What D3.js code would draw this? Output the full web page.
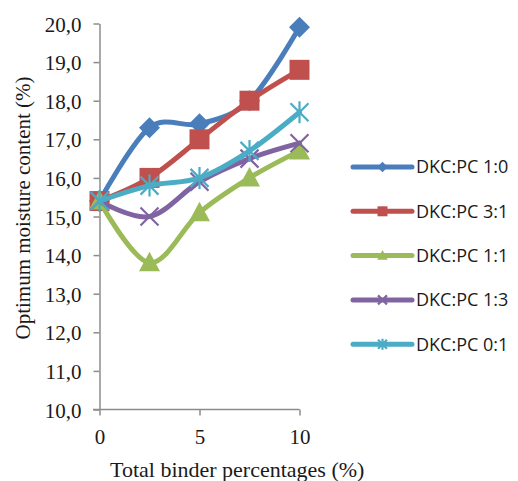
<!DOCTYPE html>
<html>
<head>
<meta charset="utf-8">
<script src="https://cdn.jsdelivr.net/npm/d3@7"></script>
<style>
	body { margin: 0; background: #fff; }
	svg { display: block; }
	.axis path, .axis line { stroke: #8c8c8c; stroke-width: 1.5; }
	.axis text { font-family: "Liberation Serif", "Times New Roman", serif; font-size: 21px; fill: #1a1a1a; }
	.title { font-family: "Liberation Serif", "Times New Roman", serif; font-size: 21px; fill: #1a1a1a; }
	.legend text { font-family: "Open Sans", "Liberation Sans", sans-serif; font-size: 18px; fill: #1a1a1a; }
</style>
</head>
<body>
<div id="chart"></div>
<script>
(function() {
	"use strict";

	var binder = [0, 2.5, 5, 7.5, 10];
	var seriesNames = ['DKC:PC 1:0', 'DKC:PC 3:1', 'DKC:PC 1:1', 'DKC:PC 1:3', 'DKC:PC 0:1'];
	var dkc10 = [15.4, 17.3, 17.4, 18.0, 19.9];
	var dkc31 = [15.4, 16.0, 17.0, 18.0, 18.8];
	var dkc11 = [15.4, 13.8, 15.1, 16.0, 16.7];
	var dkc13 = [15.4, 15.0, 15.9, 16.5, 16.9];
	var dkc01 = [15.4, 15.8, 16.0, 16.7, 17.7];
	var xTicks = [0, 5, 10];
	var yTicks = [10, 11, 12, 13, 14, 15, 16, 17, 18, 19, 20];

	var colors = ['#4a7ebb', '#c0504d', '#9bbb59', '#8064a2', '#4bacc6'];
	var markers = ['diamond', 'square', 'triangle', 'cross', 'star'];
	var values = [dkc10, dkc31, dkc11, dkc13, dkc01];

	var width = 518, height = 481;

	var svg = d3.select('#chart')
		.append('svg')
		.attr('width', width)
		.attr('height', height);

	var x = d3.scaleLinear().domain([0, 10]).range([99.5, 299.5]);
	var y = d3.scaleLinear().domain([10, 20]).range([409.5, 23.5]);

	var fmt = function (d) { return d.toFixed(1).replace('.', ','); };

	var yAxis = svg.append('g')
		.classed('axis', true)
		.attr('transform', 'translate(99.5,0)')
		.call(d3.axisLeft(y).tickValues(yTicks).tickFormat(fmt).tickSize(6).tickSizeOuter(0).tickPadding(12));

	var xAxis = svg.append('g')
		.classed('axis', true)
		.attr('transform', 'translate(0,409.5)')
		.call(d3.axisBottom(x).tickValues(xTicks).tickSize(6).tickSizeOuter(0).tickPadding(14));

	// x axis line starts a bit left of the y axis, like Excel
	xAxis.select('.domain').attr('d', 'M93,0H' + x(10));
	yAxis.selectAll('text').attr('dy', '0.36em');

	svg.append('text')
		.classed('title', true)
		.attr('x', 110)
		.attr('y', 477)
		.style('font-size', '22px')
		.text('Total binder percentages (%)');

	svg.append('text')
		.classed('title', true)
		.attr('transform', 'translate(30,208) rotate(-90)')
		.attr('text-anchor', 'middle')
		.text('Optimum moisture content (%)');

	var line = d3.line()
		.x(function (d) { return x(d[0]); })
		.y(function (d) { return y(d[1]); })
		.curve(d3.curveCatmullRom.alpha(0));

	// marker outlines, half-size r = 10px
	var markerPath = {
		diamond: 'M0,-10.5L10.5,0L0,10.5L-10.5,0Z',
		square: 'M-10,-10H10V10H-10Z',
		triangle: 'M0,-11L10.5,8.5H-10.5Z',
		cross: 'M-9,-9L9,9M9,-9L-9,9',
		star: 'M-9,-9L9,9M9,-9L-9,9M0,-11V11'
	};

	function drawMarker(g, kind, color, scale) {
		var path = g.append('path')
			.attr('d', markerPath[kind])
			.attr('transform', 'scale(' + scale + ')');
		if (kind === 'cross' || kind === 'star') {
			path.attr('fill', 'none').attr('stroke', color).attr('stroke-width', 2.2 / scale);
		} else {
			path.attr('fill', color);
		}
	}

	var series = seriesNames.map(function (name, i) {
		return {
			name: name,
			color: colors[i],
			marker: markers[i],
			points: binder.map(function (b, j) { return [b, values[i][j]]; })
		};
	});

	var groups = svg.selectAll('g.series')
		.data(series)
		.enter()
		.append('g')
		.classed('series', true);

	groups.append('path')
		.attr('d', function (s) { return line(s.points); })
		.attr('fill', 'none')
		.attr('stroke', function (s) { return s.color; })
		.attr('stroke-width', 5)
		.attr('stroke-linecap', 'round');

	groups.each(function (s) {
		var g = d3.select(this);
		s.points.forEach(function (p) {
			var m = g.append('g')
				.attr('transform', 'translate(' + x(p[0]) + ',' + y(p[1]) + ')');
			drawMarker(m, s.marker, s.color, 1);
		});
	});

	var legend = svg.append('g').classed('legend', true);
	var legendItems = legend.selectAll('g')
		.data(series)
		.enter()
		.append('g')
		.attr('transform', function (s, i) { return 'translate(353,' + (167 + i * 44.3) + ')'; });

	legendItems.append('line')
		.attr('x1', 0).attr('x2', 59)
		.attr('y1', 0).attr('y2', 0)
		.attr('stroke', function (s) { return s.color; })
		.attr('stroke-width', 5)
		.attr('stroke-linecap', 'round');

	legendItems.each(function (s) {
		var m = d3.select(this).append('g').attr('transform', 'translate(29.5,0)');
		drawMarker(m, s.marker, s.color, 0.5);
	});

	legendItems.append('text')
		.attr('x', 63)
		.attr('y', 0)
		.attr('dy', '0.36em')
		.text(function (s) { return s.name; });
}());
</script>
</body>
</html>
